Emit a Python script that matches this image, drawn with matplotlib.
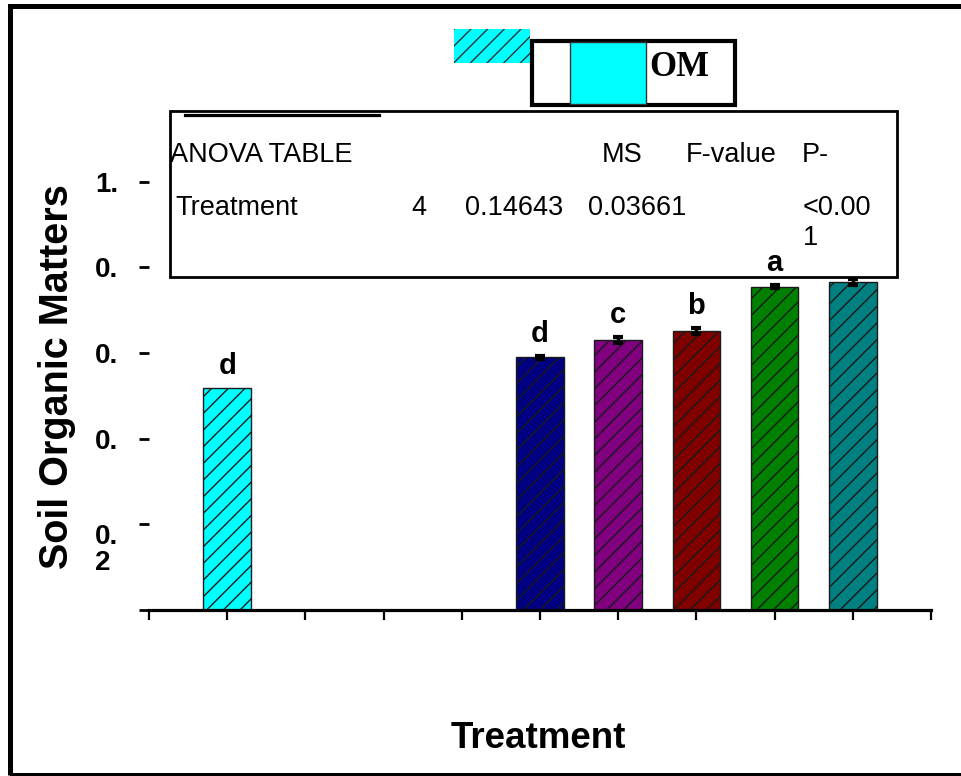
import matplotlib
matplotlib.use("Agg")
import matplotlib.pyplot as plt
from matplotlib.patches import Rectangle
from matplotlib.lines import Line2D

# ---- data ----
slots = [1, 5, 6, 7, 8, 9]                      # treatment positions along the x axis
values = [0.518, 0.590, 0.630, 0.652, 0.755, 0.767]
errors = [0.0, 0.004, 0.007, 0.007, 0.004, 0.007]
letters = ["d", "d", "c", "b", "a", ""]
colors = ["#00FFFF", "#000080", "#800080", "#800000", "#008000", "#008080"]

ytick_values = [0.0, 0.2, 0.4, 0.6, 0.8, 1.0]
ytick_labels = ["", "0.\n2", "0.", "0.", "0.", "1."]
xtick_values = list(range(0, 11))

anova_header = ["ANOVA TABLE", "MS", "F-value", "P-"]
anova_row = ["Treatment", "4", "0.14643", "0.03661", "<0.00\n1"]

W, H = 961, 776
SANS = "Liberation Sans"


def fx(px):
    return px / W


def fy(py):
    return 1 - py / H


fig = plt.figure(figsize=(W / 100, H / 100), dpi=100)
fig.patch.set_facecolor("white")

ax = fig.add_axes([fx(149), fy(610), fx(931) - fx(149), fy(139) - fy(610)])
ax.set_xlim(0, 10)
ax.set_ylim(0, 1.1)
ax.set_facecolor("none")
for s in ("top", "right", "left"):
    ax.spines[s].set_visible(False)
ax.spines["bottom"].set_linewidth(2.3)

ax.set_xticks(xtick_values)
ax.set_xticklabels([""] * len(xtick_values))
ax.tick_params(axis="x", direction="out", length=7, width=1.6, color="black")

ax.set_yticks(ytick_values)
ax.set_yticklabels(ytick_labels, fontsize=20, fontweight="bold", family=SANS)
ax.tick_params(axis="y", direction="out", length=7, width=2, pad=15, color="black")
for lab in ax.get_yticklabels():
    if "\n" in lab.get_text():
        lab.set_verticalalignment("top")
        lab.set_multialignment("left")
        lab.set_linespacing(1.0)

# bars
ax.bar(slots, values, width=0.61, color=colors, edgecolor="#1a1a1a",
       linewidth=1.0, hatch="//", zorder=2)

# error bars (only where a spread is given)
ex = [s for s, e in zip(slots, errors) if e > 0]
ev = [v for v, e in zip(values, errors) if e > 0]
ee = [e for e in errors if e > 0]
ax.errorbar(ex, ev, yerr=ee, fmt="none", ecolor="black", elinewidth=2.5,
            capsize=3.5, capthick=3, zorder=3)

# significance letters
for s, v, e, t in zip(slots, values, errors, letters):
    if t:
        ax.annotate(t, (s, v + e), xytext=(0, 10), textcoords="offset points",
                    ha="center", va="baseline", fontsize=21, fontweight="bold",
                    family=SANS, zorder=7, annotation_clip=False)

# ANOVA table box
box = Rectangle((fx(170), fy(277)), fx(897) - fx(170), fy(111) - fy(277),
                transform=fig.transFigure, facecolor="white", edgecolor="black",
                linewidth=2.0, zorder=4, clip_on=False)
ax.add_patch(box)
ax.add_line(Line2D([fx(185), fx(379)], [fy(115), fy(115)], transform=fig.transFigure,
                   color="black", linewidth=2.3, zorder=5, clip_on=False))

header_x = [170, 602, 686, 802]
for px, t in zip(header_x, anova_header):
    ax.text(fx(px), fy(155), t, transform=fig.transFigure, ha="left", va="center",
            fontsize=19.5, family=SANS, zorder=6, clip_on=False)

row_x = [175, 411, 465, 588, 803]
for px, t in zip(row_x, anova_row):
    if "\n" in t:
        # the split p-value starts on the same line as the others
        ax.text(fx(px), fy(195), t, transform=fig.transFigure, ha="left", va="top",
                fontsize=19.5, family=SANS, zorder=6, clip_on=False, linespacing=1.2)
    else:
        ax.text(fx(px), fy(208), t, transform=fig.transFigure, ha="left", va="center",
                fontsize=19.5, family=SANS, zorder=6, clip_on=False)

# axis titles
fig.text(fx(538), fy(738), "Treatment", ha="center", va="center",
         fontsize=26.5, fontweight="bold", family=SANS)
fig.text(fx(57), fy(377), "Soil Organic Matters", ha="center", va="center",
         rotation=90, fontsize=28.5, fontweight="bold", family=SANS)

# legend pieces at the top
fig.patches.append(Rectangle((fx(454), fy(63)), fx(530) - fx(454), fy(29) - fy(63),
                             transform=fig.transFigure, facecolor="#00FFFF",
                             edgecolor="#333333", linewidth=0, hatch="//"))
fig.patches.append(Rectangle((fx(532), fy(105)), fx(735) - fx(532), fy(41) - fy(105),
                             transform=fig.transFigure, facecolor="white",
                             edgecolor="black", linewidth=3.0))
fig.patches.append(Rectangle((fx(570), fy(104)), fx(646) - fx(570), fy(42) - fy(104),
                             transform=fig.transFigure, facecolor="#00FFFF",
                             edgecolor="#333333", linewidth=1.0))
fig.text(fx(649), fy(67), "OM", ha="left", va="center", fontsize=25,
         fontweight="bold", family="Liberation Serif")

# outer frame
fig.patches.append(Rectangle((fx(9.5), fy(774.5)), 1.2, fy(6) - fy(774.5),
                             transform=fig.transFigure, facecolor="none",
                             edgecolor="black", linewidth=3.6))

fig.savefig("out.png", dpi=100)
